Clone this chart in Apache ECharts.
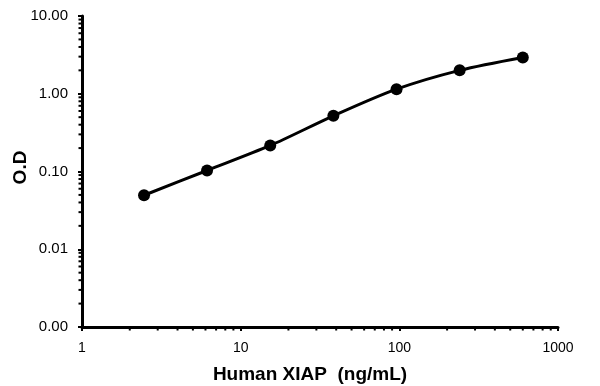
<!DOCTYPE html>
<html>
<head>
<meta charset="utf-8">
<script src="https://cdn.jsdelivr.net/npm/echarts@6/dist/echarts.min.js"></script>
<style>
html,body{margin:0;padding:0;background:#fff;}
#c{width:600px;height:386px;}
</style>
</head>
<body>
<div id="c"></div>
<script>
// Data
var concentration = [2.46, 6.14, 15.36, 38.4, 96, 240, 600];
var od = [0.0495, 0.103, 0.216, 0.52, 1.146, 2.0, 2.93];
var xTicks = [1, 10, 100, 1000];
var yTicks = [0.001, 0.01, 0.1, 1, 10];

var xMinor = [];
for (var d = 0; d < 3; d++) for (var m = 2; m <= 9; m++) xMinor.push([m * Math.pow(10, d), 0.001]);
var yMinor = [];
for (var e = -3; e < 1; e++) for (var k = 2; k <= 9; k++) yMinor.push([1, k * Math.pow(10, e)]);

var font = 'Liberation Sans, Arial, sans-serif';
var chart = echarts.init(document.getElementById('c'), null, {renderer: 'canvas'});

function tickSeries(data, horizontal) {
  return {
    type: 'custom',
    data: data,
    clip: false,
    silent: true,
    z: 1,
    renderItem: function (params, api) {
      var p = api.coord([api.value(0), api.value(1)]);
      var shape = horizontal
        ? {x1: p[0], y1: p[1], x2: p[0], y2: p[1] + 3.5}
        : {x1: p[0], y1: p[1], x2: p[0] - 3.5, y2: p[1]};
      return {type: 'line', shape: shape, style: {stroke: '#000', lineWidth: 2}};
    }
  };
}

chart.setOption({
  animation: false,
  backgroundColor: '#fff',
  grid: {left: 82, right: 42, top: 16, bottom: 59, containLabel: false, outerBoundsMode: 'none'},
  xAxis: {
    type: 'log',
    logBase: 10,
    min: 1,
    max: 1000,
    name: 'Human XIAP  (ng/mL)',
    nameLocation: 'middle',
    nameGap: 38,
    nameTextStyle: {fontFamily: font, fontSize: 19, fontWeight: 'bold', color: '#000', padding: [0, 20, 0, 0]},
    axisLine: {lineStyle: {color: '#000', width: 3}},
    axisTick: {show: true, inside: false, length: 4, lineStyle: {color: '#000', width: 2}},
    axisLabel: {fontFamily: font, fontSize: 14, color: '#000', margin: 14,
      formatter: function (v) { return String(Math.round(v)); }},
    splitLine: {show: false}
  },
  yAxis: {
    type: 'log',
    logBase: 10,
    min: 0.001,
    max: 10,
    name: 'O.D',
    nameLocation: 'middle',
    nameMoveOverlap: false,
    nameGap: 52,
    nameRotate: 90,
    nameTextStyle: {fontFamily: font, fontSize: 19, fontWeight: 'bold', color: '#000', padding: [0, 0, 0, 8]},
    axisLine: {lineStyle: {color: '#000', width: 3}},
    axisTick: {show: true, inside: false, length: 4, lineStyle: {color: '#000', width: 2}},
    axisLabel: {fontFamily: font, fontSize: 15, color: '#000', margin: 14,
      formatter: function (v) { return v.toFixed(2); }},
    splitLine: {show: false}
  },
  series: [
    tickSeries(xMinor, true),
    tickSeries(yMinor, false),
    {
      type: 'line',
      data: concentration.map(function (x, i) { return [x, od[i]]; }),
      smooth: 0.3,
      symbol: 'circle',
      symbolSize: 12,
      lineStyle: {color: '#000', width: 3},
      itemStyle: {color: '#000'},
      z: 5
    }
  ]
});
</script>
</body>
</html>
